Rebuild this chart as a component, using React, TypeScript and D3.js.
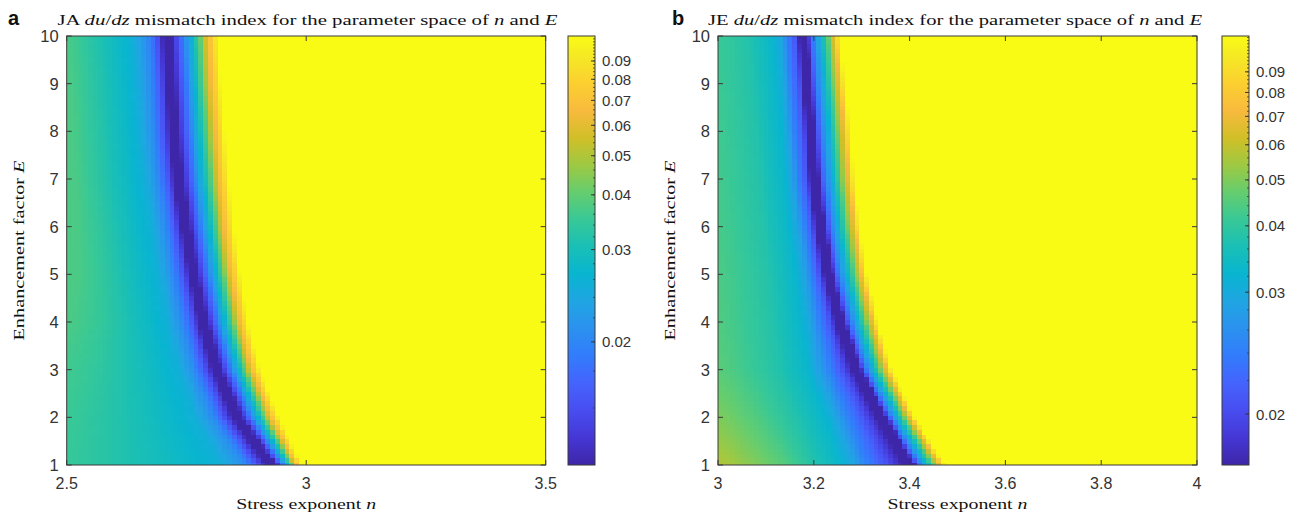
import React, { useMemo } from 'react';
import * as d3 from 'd3';

const W = 1294;
const H = 513;

const eKnots = [1, 2, 3, 4, 5, 6, 7, 8, 9, 10];
const eTicks = [1, 2, 3, 4, 5, 6, 7, 8, 9, 10];
const cbarTicks = [0.02, 0.03, 0.04, 0.05, 0.06, 0.07, 0.08, 0.09];

// ---- panel a (JA) ----
const nTicksA = [2.5, 3, 3.5];
const valleyA = [2.931, 2.858, 2.814, 2.785, 2.764, 2.747, 2.732, 2.722, 2.716, 2.709];
const yellowA = [2.991, 2.943, 2.904, 2.879, 2.862, 2.849, 2.839, 2.831, 2.822, 2.816];
const minA = 0.0138;
const leftLevelsA = [0.0138, 0.0164, 0.0204, 0.0254, 0.0299, 0.0348, 0.0373, 0.0391];
// distance (in n) from the valley to each left-side level, per E knot
const leftOffsetsA = [
  [0.015, 0.012, 0.01, 0.009, 0.008, 0.008, 0.008, 0.008, 0.008, 0.008],
  [0.035, 0.03, 0.026, 0.023, 0.022, 0.021, 0.021, 0.021, 0.021, 0.021],
  [0.058, 0.052, 0.048, 0.045, 0.043, 0.042, 0.042, 0.042, 0.042, 0.042],
  [0.11, 0.09, 0.08, 0.075, 0.072, 0.071, 0.071, 0.071, 0.071, 0.071],
  [0.257, 0.2, 0.165, 0.145, 0.135, 0.13, 0.128, 0.125, 0.125, 0.125],
  [0.43, 0.34, 0.27, 0.22, 0.2, 0.19, 0.185, 0.18, 0.18, 0.18],
  [0.55, 0.45, 0.36, 0.28, 0.24, 0.225, 0.215, 0.21, 0.209, 0.209],
  [0.7, 0.62, 0.55, 0.5, 0.46, 0.45, 0.45, 0.4, 0.4, 0.4],
];
const rightFracA = [0, 0.1, 0.2, 0.32, 0.5, 0.65, 0.8, 0.9, 1];
const rightValsA = [0.0138, 0.0138, 0.0157, 0.0189, 0.0269, 0.0391, 0.0646, 0.0802, 0.106];
const cbarRangeA = [0.0138, 0.106];
const cbarShiftA = 0.0095;

// ---- panel b (JE) ----
const nTicksB = [3, 3.2, 3.4, 3.6, 3.8, 4];
const valleyB = [3.401, 3.344, 3.29, 3.255, 3.23, 3.213, 3.2, 3.192, 3.184, 3.177];
const yellowB = [3.474, 3.411, 3.363, 3.334, 3.311, 3.296, 3.284, 3.276, 3.265, 3.255];
const minB = 0.0177;
const leftLevelsB = [0.0177, 0.0207, 0.0245, 0.029, 0.0327, 0.038, 0.0445, 0.057];
const leftOffsetsB = [
  [0.016, 0.014, 0.012, 0.01, 0.009, 0.008, 0.008, 0.007, 0.007, 0.007],
  [0.05, 0.04, 0.031, 0.023, 0.019, 0.017, 0.017, 0.015, 0.015, 0.015],
  [0.092, 0.073, 0.058, 0.044, 0.035, 0.033, 0.033, 0.033, 0.033, 0.033],
  [0.119, 0.098, 0.084, 0.063, 0.052, 0.048, 0.046, 0.046, 0.046, 0.046],
  [0.146, 0.123, 0.104, 0.084, 0.069, 0.065, 0.063, 0.063, 0.063, 0.063],
  [0.203, 0.184, 0.167, 0.142, 0.125, 0.119, 0.115, 0.115, 0.115, 0.115],
  [0.259, 0.265, 0.271, 0.255, 0.24, 0.234, 0.23, 0.23, 0.23, 0.23],
  [0.395, 0.438, 0.48, 0.501, 0.522, 0.522, 0.522, 0.522, 0.522, 0.522],
];
const rightFracB = [0, 0.12, 0.24, 0.46, 0.65, 0.86, 1];
const rightValsB = [0.0177, 0.0177, 0.0221, 0.0309, 0.0436, 0.0713, 0.111];
const cbarRangeB = [0.0177, 0.111];
const cbarShiftB = 0.012;

// parula (every 4th entry of the 64 colour table)
const parulaIdx = [0, 4, 8, 12, 16, 20, 24, 28, 32, 36, 40, 44, 48, 52, 56, 60, 63];
const parulaHex = [
  '#3e26a8', '#4537d5', '#484df0', '#4563fd', '#327cfc', '#2b91ef', '#20a5e3',
  '#08b5d0', '#19bfb6', '#37c897', '#64cd6f', '#9dc943', '#d1bf27', '#f8ba3d',
  '#fccf30', '#f5e924', '#f9fb15',
];
const parula = d3
  .scaleLinear<string>()
  .domain(parulaIdx.map((i) => i / 63))
  .range(parulaHex)
  .interpolate(d3.interpolateRgb)
  .clamp(true);

const SANS = 'Liberation Sans, Arial, sans-serif';
const SERIF = 'Liberation Serif, Times New Roman, serif';
const AXIS = '#3a3a3a';

const Panel = ({ p }) => {
  const { x0, x1, y0, y1 } = p;
  const x = d3.scaleLinear().domain(p.nDomain).range([x0, x1]);
  const y = d3.scaleLinear().domain([1, 10]).range([y1, y0]);
  const cpos = d3
    .scaleLog()
    .domain([p.cbarRange[0] - p.shift, p.cbarRange[1] - p.shift])
    .range([0, 1])
    .clamp(true);
  const cy = d3.scaleLinear().domain([0, 1]).range([y1, y0]);
  const colorOf = (v) => parula(cpos(Math.max(v - p.shift, 1e-6)));

  const cells = useMemo(() => {
    const valley = d3.scaleLinear().domain(eKnots).range(p.valley);
    const yellow = d3.scaleLinear().domain(eKnots).range(p.yellow);
    const offs = p.leftOffsets.map((arr) => d3.scaleLinear().domain(eKnots).range(arr));
    const right = d3.scaleLinear().domain(p.rightFrac).range(p.rightVals).clamp(true);
    const out = [];
    for (let j = 0; j <= 90; j++) {
      const E = 1 + j / 10;
      const nv = valley(E);
      const ny = yellow(E);
      const left = d3
        .scaleLinear()
        .domain([0, ...offs.map((s) => s(E))])
        .range([p.minVal, ...p.leftLevels])
        .clamp(true);
      for (let i = 0; i <= 100; i++) {
        const n = p.nDomain[0] + i / 100;
        const v = n >= nv ? right((n - nv) / (ny - nv)) : left(nv - n);
        out.push({ n, E, v });
      }
    }
    return out;
  }, [p]);

  const clipId = `clip-${p.id}`;
  const gradId = `grad-${p.id}`;
  const minor = d3
    .range(14, 112, 2)
    .map((k) => k / 1000)
    .filter((v) => v > p.cbarRange[0] && v < p.cbarRange[1]);
  const cbY = (v) => cy(cpos(v - p.shift));
  const midX = (x0 + x1) / 2;
  const it = { fontStyle: 'italic' };

  return (
    <g>
      <defs>
        <clipPath id={clipId}>
          <rect x={x0} y={y0} width={x1 - x0} height={y1 - y0} />
        </clipPath>
        <linearGradient id={gradId} x1="0" y1="1" x2="0" y2="0">
          {parulaIdx.map((i, k) => (
            <stop key={k} offset={i / 63} stopColor={parulaHex[k]} />
          ))}
        </linearGradient>
      </defs>
      <g clipPath={`url(#${clipId})`} shapeRendering="crispEdges">
        {cells.map((c, k) => {
          const xa = x(c.n - 0.005);
          const xb = x(c.n + 0.005);
          const ya = y(c.E + 0.05);
          const yb = y(c.E - 0.05);
          return (
            <rect
              key={k}
              x={xa}
              y={ya}
              width={xb - xa + 0.6}
              height={yb - ya + 0.6}
              fill={colorOf(c.v)}
            />
          );
        })}
      </g>
      <rect x={x0} y={y0} width={x1 - x0} height={y1 - y0} fill="none" stroke={AXIS} strokeWidth={1} />
      {p.nTicks.map((t) => (
        <g key={`xt${t}`}>
          <line x1={x(t)} x2={x(t)} y1={y1} y2={y1 - 5} stroke={AXIS} />
          <line x1={x(t)} x2={x(t)} y1={y0} y2={y0 + 5} stroke={AXIS} />
          <text x={x(t)} y={y1 + 24} textAnchor="middle" fontFamily={SANS} fontSize={16} fill="#333">
            {String(t)}
          </text>
        </g>
      ))}
      {eTicks.map((t) => (
        <g key={`yt${t}`}>
          <line x1={x0} x2={x0 + 5} y1={y(t)} y2={y(t)} stroke={AXIS} />
          <line x1={x1} x2={x1 - 5} y1={y(t)} y2={y(t)} stroke={AXIS} />
          <text x={x0 - 8} y={y(t) + 6} textAnchor="end" fontFamily={SANS} fontSize={16.5} fill="#333">
            {String(t)}
          </text>
        </g>
      ))}
      <text x={p.labelX} y={25} fontFamily={SANS} fontWeight="bold" fontSize={20} fill="#111">
        {p.id}
      </text>
      <text
        x={p.titleX}
        y={25}
        textAnchor="middle"
        fontFamily={SERIF}
        fontSize={15.5}
        fill="#111"
        textLength={p.titleLen}
        lengthAdjust="spacingAndGlyphs"
      >
        {p.titlePrefix + ' '}
        <tspan style={it}>du</tspan>/<tspan style={it}>dz</tspan>
        {' mismatch index for the parameter space of '}
        <tspan style={it}>n</tspan>
        {' and '}
        <tspan style={it}>E</tspan>
      </text>
      <text
        x={midX}
        y={509}
        textAnchor="middle"
        fontFamily={SERIF}
        fontSize={15.5}
        fill="#111"
        textLength={140}
        lengthAdjust="spacingAndGlyphs"
      >
        {'Stress exponent '}
        <tspan style={it}>n</tspan>
      </text>
      <text
        transform={`translate(${x0 - 43},${(y0 + y1) / 2}) rotate(-90)`}
        textAnchor="middle"
        fontFamily={SERIF}
        fontSize={15.5}
        fill="#111"
        textLength={180}
        lengthAdjust="spacingAndGlyphs"
      >
        {'Enhancement factor '}
        <tspan style={it}>E</tspan>
      </text>
      {/* colorbar */}
      <rect x={p.cbX} y={y0} width={27} height={y1 - y0} fill={`url(#${gradId})`} stroke={AXIS} strokeWidth={1} />
      {minor.map((v) => (
        <line key={`m${v}`} x1={p.cbX + 27} x2={p.cbX + 25} y1={cbY(v)} y2={cbY(v)} stroke={AXIS} strokeWidth={0.8} />
      ))}
      {cbarTicks.map((v) => (
        <g key={`c${v}`}>
          <line x1={p.cbX + 27} x2={p.cbX + 23} y1={cbY(v)} y2={cbY(v)} stroke={AXIS} />
          <text x={p.cbX + 34} y={cbY(v) + 5.5} fontFamily={SANS} fontSize={15} fill="#333">
            {v.toFixed(2)}
          </text>
        </g>
      ))}
    </g>
  );
};

const panelA = {
  id: 'a',
  titlePrefix: 'JA',
  nDomain: [2.5, 3.5],
  nTicks: nTicksA,
  valley: valleyA,
  yellow: yellowA,
  minVal: minA,
  leftLevels: leftLevelsA,
  leftOffsets: leftOffsetsA,
  rightFrac: rightFracA,
  rightVals: rightValsA,
  cbarRange: cbarRangeA,
  shift: cbarShiftA,
  x0: 66.7,
  x1: 545.7,
  y0: 36,
  y1: 465,
  cbX: 568,
  labelX: 8,
  titleX: 307.5,
  titleLen: 500,
};

const panelB = {
  id: 'b',
  titlePrefix: 'JE',
  nDomain: [3, 4],
  nTicks: nTicksB,
  valley: valleyB,
  yellow: yellowB,
  minVal: minB,
  leftLevels: leftLevelsB,
  leftOffsets: leftOffsetsB,
  rightFrac: rightFracB,
  rightVals: rightValsB,
  cbarRange: cbarRangeB,
  shift: cbarShiftB,
  x0: 718,
  x1: 1197,
  y0: 36,
  y1: 465,
  cbX: 1222,
  labelX: 672,
  titleX: 955,
  titleLen: 494,
};

export default function App() {
  return (
    <svg
      width={W}
      height={H}
      style={{ position: 'absolute', left: 0, top: 0, background: '#fff' }}
    >
      <rect width={W} height={H} fill="#fff" />
      <Panel p={panelA} />
      <Panel p={panelB} />
    </svg>
  );
}
